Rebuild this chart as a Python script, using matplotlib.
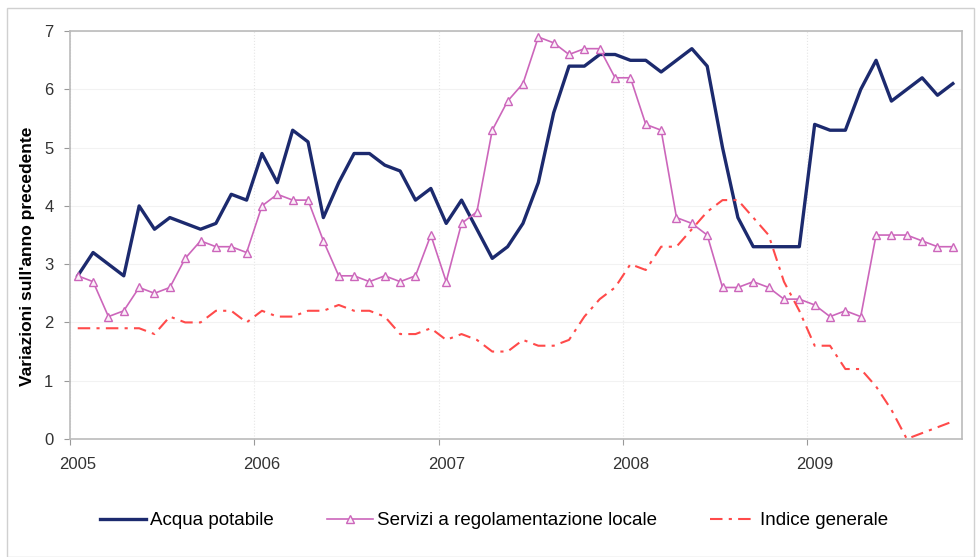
import numpy as np
import matplotlib.pyplot as plt
from matplotlib.patches import Rectangle

plt.rcParams['font.family'] = ['Liberation Sans', 'DejaVu Sans']

# monthly data, Jan 2005 - Oct 2009
years = ['2005', '2006', '2007', '2008', '2009']
acqua = [2.8, 3.2, 3.0, 2.8, 4.0, 3.6, 3.8, 3.7, 3.6, 3.7, 4.2, 4.1,
         4.9, 4.4, 5.3, 5.1, 3.8, 4.4, 4.9, 4.9, 4.7, 4.6, 4.1, 4.3,
         3.7, 4.1, 3.6, 3.1, 3.3, 3.7, 4.4, 5.6, 6.4, 6.4, 6.6, 6.6,
         6.5, 6.5, 6.3, 6.5, 6.7, 6.4, 5.0, 3.8, 3.3, 3.3, 3.3, 3.3,
         5.4, 5.3, 5.3, 6.0, 6.5, 5.8, 6.0, 6.2, 5.9, 6.1]
servizi = [2.8, 2.7, 2.1, 2.2, 2.6, 2.5, 2.6, 3.1, 3.4, 3.3, 3.3, 3.2,
           4.0, 4.2, 4.1, 4.1, 3.4, 2.8, 2.8, 2.7, 2.8, 2.7, 2.8, 3.5,
           2.7, 3.7, 3.9, 5.3, 5.8, 6.1, 6.9, 6.8, 6.6, 6.7, 6.7, 6.2,
           6.2, 5.4, 5.3, 3.8, 3.7, 3.5, 2.6, 2.6, 2.7, 2.6, 2.4, 2.4,
           2.3, 2.1, 2.2, 2.1, 3.5, 3.5, 3.5, 3.4, 3.3, 3.3]
indice = [1.9, 1.9, 1.9, 1.9, 1.9, 1.8, 2.1, 2.0, 2.0, 2.2, 2.2, 2.0,
          2.2, 2.1, 2.1, 2.2, 2.2, 2.3, 2.2, 2.2, 2.1, 1.8, 1.8, 1.9,
          1.7, 1.8, 1.7, 1.5, 1.5, 1.7, 1.6, 1.6, 1.7, 2.1, 2.4, 2.6,
          3.0, 2.9, 3.3, 3.3, 3.6, 3.9, 4.1, 4.1, 3.8, 3.5, 2.7, 2.2,
          1.6, 1.6, 1.2, 1.2, 0.9, 0.5, 0.0, 0.1, 0.2, 0.3]

x = np.arange(len(acqua))

fig = plt.figure(figsize=(9.77, 5.57), dpi=100)
ax = fig.add_axes([0.0717, 0.212, 0.913, 0.732])

ax.plot(x, acqua, color='#1c2a6e', lw=2.4, label='Acqua potabile')
ax.plot(x, servizi, color='#cc66bb', lw=1.2, marker='^', markersize=6,
        markerfacecolor='#fbf0f8', markeredgecolor='#cc66bb', markeredgewidth=1.0,
        label='Servizi a regolamentazione locale')
ax.plot(x, indice, color='#ff4a4a', lw=1.5, linestyle=(0, (6, 3, 1.5, 3)),
        label='Indice generale')

ax.set_xlim(-0.5, 57.6)
ax.set_ylim(0, 7)
ax.set_yticks(range(0, 8))
ax.set_xticks(np.arange(len(years)) * 12 - 0.5)
ax.set_xticklabels([])
ax.set_xticks(np.arange(len(years)) * 12, minor=True)
ax.set_xticklabels(years, minor=True)
ax.tick_params(axis='x', which='minor', length=0, pad=13, labelsize=12, labelcolor='#333333')
ax.tick_params(axis='x', which='major', length=4, color='#999999')
ax.tick_params(axis='y', length=4, pad=8, color='#999999', labelsize=12, labelcolor='#333333')

ax.grid(axis='y', color='#f2f2f2', lw=0.8)
ax.grid(axis='x', which='major', color='#e6e6e6', lw=0.8, linestyle=':')
ax.set_axisbelow(True)
for s in ax.spines.values():
    s.set_color('#bbbbbb')
    s.set_linewidth(1.2)

ax.set_ylabel("Variazioni sull'anno precedente", fontsize=12.5, fontweight='bold')
ax.yaxis.set_label_coords(-0.039, 0.449)

fig.legend(loc='center', bbox_to_anchor=(0.506, 0.065), ncol=3, frameon=False,
           fontsize=13.5, handlelength=2.45, handletextpad=0.2, columnspacing=2.85)

fig.add_artist(Rectangle((0.007, 0.0), 0.99, 0.985, transform=fig.transFigure,
                         fill=False, edgecolor='#d0d0d0', lw=1))

fig.savefig('out.png', dpi=100)
